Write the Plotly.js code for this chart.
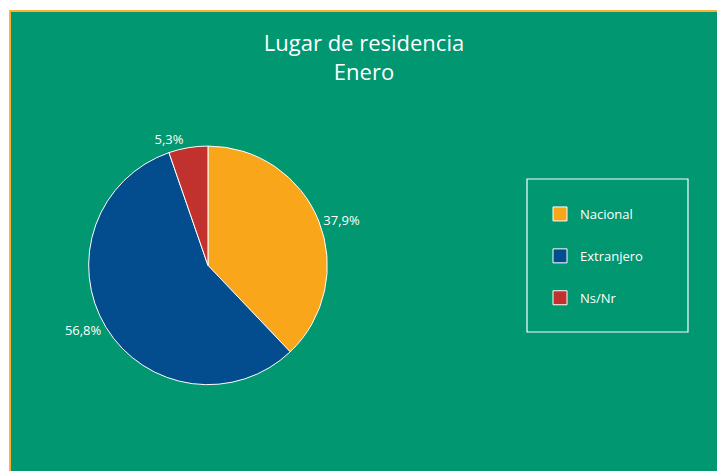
<!DOCTYPE html>
<html>
<head>
<meta charset="utf-8">
<script src="https://cdn.plot.ly/plotly-3.0.1.min.js"></script>
<style>
html,body{margin:0;padding:0;background:#ffffff;width:717px;height:471px;overflow:hidden;}
#frame{position:absolute;left:9px;top:10px;width:708px;height:461px;border-left:2px solid #F9B233;border-top:2px solid #F9B233;box-sizing:border-box;}
#chart{position:absolute;left:0;top:0;width:706px;height:459px;}
</style>
</head>
<body>
<div id="frame"><div id="chart"></div></div>
<script>
const categories = ["Nacional", "Extranjero", "Ns/Nr"];
const values = [37.9, 56.8, 5.3];
const colors = ["#F9A61B", "#034D8E", "#C1322F"];
const chartTitle = "Lugar de residencia<br>Enero";

const W = 706, H = 459;
const green = "#009771";

const pie = {
  type: "pie",
  labels: categories,
  values: values,
  sort: false,
  direction: "clockwise",
  rotation: 0,
  marker: {colors: colors, line: {color: "#ffffff", width: 1}},
  textposition: "outside",
  texttemplate: "%{percent:.1%}",
  textfont: {color: "#ffffff", size: 13, family: "Open Sans, sans-serif"},
  hoverinfo: "label+percent",
  showlegend: false,
  domain: {x: [0.110, 0.448], y: [0.188, 0.708]}
};

const legendTraces = categories.map((c, i) => ({
  type: "scatter",
  mode: "markers",
  x: [null], y: [null],
  name: c,
  legendgroup: c,
  marker: {symbol: "square", size: 14, color: colors[i], line: {color: "#ffffff", width: 1}},
  showlegend: true,
  hoverinfo: "skip"
}));

const layout = {
  width: W, height: H,
  margin: {l: 0, r: 0, t: 0, b: 0},
  paper_bgcolor: green,
  plot_bgcolor: green,
  separators: ",.",
  title: {
    text: chartTitle,
    x: 0.5, xanchor: "center",
    y: 1 - 39 / H, yref: "container", yanchor: "top",
    font: {color: "#ffffff", size: 22, family: "Open Sans, sans-serif"}
  },
  xaxis: {visible: false, domain: [0.9, 1]},
  yaxis: {visible: false, domain: [0.9, 1]},
  showlegend: true,
  legend: {
    x: (569 - 40) / W, xanchor: "left",
    y: 1 - (201 - 14) / H, yanchor: "top",
    bgcolor: "rgba(0,0,0,0)",
    borderwidth: 0,
    traceorder: "grouped",
    tracegroupgap: 22,
    font: {color: "#ffffff", size: 13, family: "Open Sans, sans-serif"}
  },
  shapes: [{
    type: "rect", xref: "paper", yref: "paper",
    x0: 516 / W, x1: 677 / W, y0: 1 - 320 / H, y1: 1 - 167 / H,
    line: {color: "#ffffff", width: 1.2}, fillcolor: "rgba(0,0,0,0)"
  }]
};

Plotly.newPlot("chart", [pie].concat(legendTraces), layout, {displayModeBar: false, staticPlot: true});
</script>
</body>
</html>
